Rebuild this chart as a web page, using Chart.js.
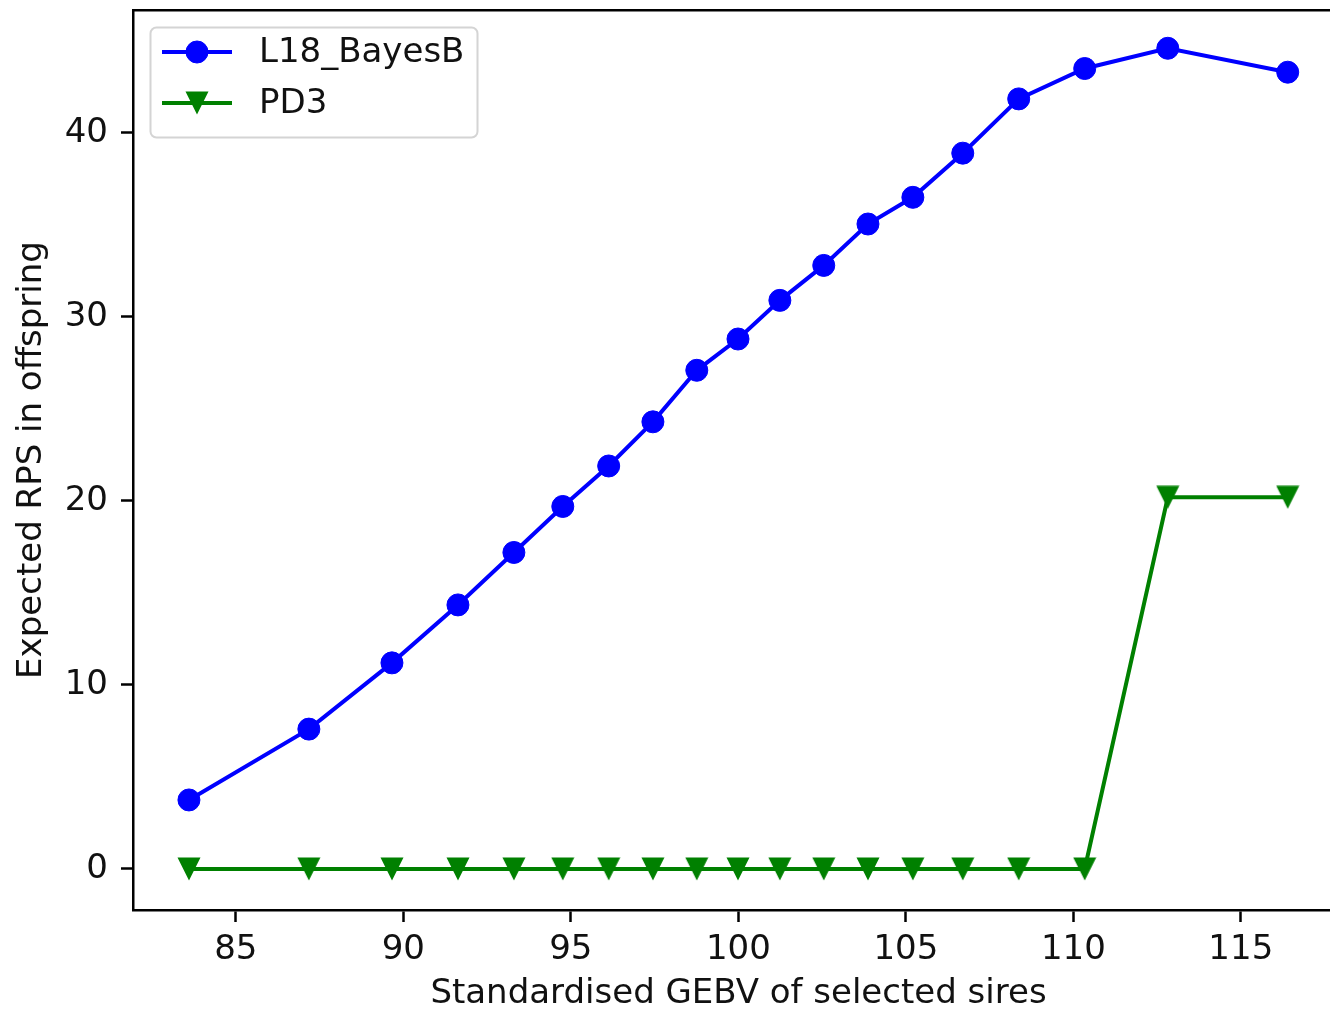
<!DOCTYPE html>
<html>
<head>
<meta charset="utf-8">
<title>Expected RPS in offspring</title>
<script src="https://cdn.jsdelivr.net/npm/chart.js@4.4.1/dist/chart.umd.min.js"></script>
<style>
  html, body { margin: 0; padding: 0; background: #fff; overflow: hidden; }
  /* the reference crops the figure just short of the right spine */
  #wrap { width: 1330px; height: 1012px; overflow: hidden; }
</style>
</head>
<body>
<div id="wrap"><canvas id="chart" width="1344" height="1012"></canvas></div>
<script>
// ─── Data ──────────────────────────────────────────────────────────────────────
const gebv   = [83.60, 87.18, 89.66, 91.63, 93.30, 94.76, 96.13, 97.45, 98.76, 99.99,
                101.24, 102.55, 103.87, 105.21, 106.70, 108.37, 110.34, 112.82, 116.40];
const bayesB = [3.75, 7.6, 11.2, 14.35, 17.2, 19.7, 21.9, 24.3, 27.1, 28.8,
                30.9, 32.8, 35.05, 36.5, 38.9, 41.85, 43.5, 44.6, 43.3];
const pd3    = [0, 0, 0, 0, 0, 0, 0, 0, 0, 0,
                0, 0, 0, 0, 0, 0, 0, 20.2, 20.2];
const xTicks = [85, 90, 95, 100, 105, 110, 115];
const yTicks = [0, 10, 20, 30, 40];
const seriesNames = ['L18_BayesB', 'PD3'];
const xTitle = 'Standardised GEBV of selected sires';
const yTitle = 'Expected RPS in offspring';

const X_MIN = 81.93, X_MAX = 118.08;
const Y_MIN = -2.23, Y_MAX = 46.68;

const FONT = { family: "'DejaVu Sans', sans-serif", size: 34, lineHeight: 1 };
const TEXT = '#111';

// matplotlib style 'v' marker (isoceles, as wide as tall)
function makeTriangle(size, color) {
  const c = document.createElement('canvas');
  c.width = size; c.height = size;
  const g = c.getContext('2d');
  g.fillStyle = color;
  g.beginPath();
  g.moveTo(0.5, 0.5);
  g.lineTo(size - 0.5, 0.5);
  g.lineTo(size / 2, size - 0.5);
  g.closePath();
  g.fill();
  return c;
}

const toPoints = ys => gebv.map((x, i) => ({ x, y: ys[i] }));

// no auto padding: the plot box is fixed like the reference
function noPad(s) {
  s.paddingTop = 0; s.paddingBottom = 0;
  s.paddingLeft = 0; s.paddingRight = 0;
}

// ─── Legend box drawn in the upper left of the plot ───────────────────────────
const boxLegend = {
  id: 'boxLegend',
  afterDraw(chart) {
    const ctx = chart.ctx;
    ctx.save();
    ctx.beginPath();
    ctx.roundRect(150.5, 27.5, 327, 110, 6);
    ctx.fillStyle = 'rgba(255,255,255,0.8)';
    ctx.fill();
    ctx.strokeStyle = '#d4d4d4';
    ctx.lineWidth = 2;
    ctx.stroke();

    chart.data.datasets.forEach((ds, i) => {
      const ry = 52 + i * 51;
      ctx.strokeStyle = ds.borderColor;
      ctx.lineWidth = ds.borderWidth;
      ctx.beginPath();
      ctx.moveTo(162, ry);
      ctx.lineTo(232, ry);
      ctx.stroke();
      ctx.fillStyle = ds.pointBackgroundColor;
      ctx.strokeStyle = ds.pointBorderColor;
      ctx.lineWidth = ds.pointBorderWidth;
      Chart.helpers.drawPoint(ctx, {
        pointStyle: ds.pointStyle, radius: ds.pointRadius,
        borderWidth: ds.pointBorderWidth, rotation: 0
      }, 197, ry);
      ctx.fillStyle = TEXT;
      ctx.font = `${FONT.size}px ${FONT.family}`;
      ctx.textBaseline = 'middle';
      ctx.textAlign = 'left';
      ctx.fillText(ds.label, 259, ry + 1);
    });
    ctx.restore();
  }
};

// ─── Chart ────────────────────────────────────────────────────────────────────
new Chart(document.getElementById('chart'), {
  type: 'line',
  data: {
    datasets: [
      {
        label: seriesNames[0],
        data: toPoints(bayesB),
        borderColor: '#0000ff',
        backgroundColor: '#0000ff',
        borderWidth: 4,
        pointStyle: 'circle',
        pointRadius: 11,
        pointBorderWidth: 1,
        pointBackgroundColor: '#0000ff',
        pointBorderColor: '#0000ff',
        tension: 0,
      },
      {
        label: seriesNames[1],
        data: toPoints(pd3),
        borderColor: '#008000',
        backgroundColor: '#008000',
        borderWidth: 4,
        pointStyle: makeTriangle(24, '#008000'),
        pointRadius: 12,
        pointBorderWidth: 0,
        pointBackgroundColor: '#008000',
        pointBorderColor: '#008000',
        tension: 0,
      },
    ],
  },
  options: {
    responsive: false,
    animation: false,
    devicePixelRatio: 1,
    layout: { padding: 0, autoPadding: false },
    plugins: {
      legend:  { display: false },
      tooltip: { enabled: false },
    },
    scales: {
      x: {
        type: 'linear',
        position: 'bottom',
        min: X_MIN, max: X_MAX,
        afterBuildTicks: s => { s.ticks = xTicks.map(v => ({ value: v })); },
        afterFit: s => { s.height = 102; noPad(s); },
        grid:   { drawOnChartArea: false, drawTicks: true, tickLength: 12, tickWidth: 2.5, tickColor: '#000' },
        border: { display: true, color: '#000', width: 2.5 },
        ticks:  { font: FONT, color: TEXT, padding: 11, maxRotation: 0, autoSkip: false },
        title:  { display: true, text: xTitle, font: FONT, color: TEXT, padding: { top: 0, bottom: 1 } },
      },
      xTop: {
        type: 'linear',
        position: 'top',
        min: X_MIN, max: X_MAX,
        afterFit: s => { s.height = 10; noPad(s); },
        grid:   { drawOnChartArea: false, drawTicks: false },
        border: { display: true, color: '#000', width: 2.5 },
        ticks:  { display: false },
      },
      y: {
        type: 'linear',
        position: 'left',
        min: Y_MIN, max: Y_MAX,
        afterBuildTicks: s => { s.ticks = yTicks.map(v => ({ value: v })); },
        afterFit: s => { s.width = 133; noPad(s); },
        grid:   { drawOnChartArea: false, drawTicks: true, tickLength: 12, tickWidth: 2.5, tickColor: '#000' },
        border: { display: true, color: '#000', width: 2.5 },
        ticks:  { font: FONT, color: TEXT, padding: 13 },
        title:  { display: true, text: yTitle, font: FONT, color: TEXT, padding: { top: 15, bottom: 0 } },
      },
    },
  },
  plugins: [boxLegend],
});
</script>
</body>
</html>
